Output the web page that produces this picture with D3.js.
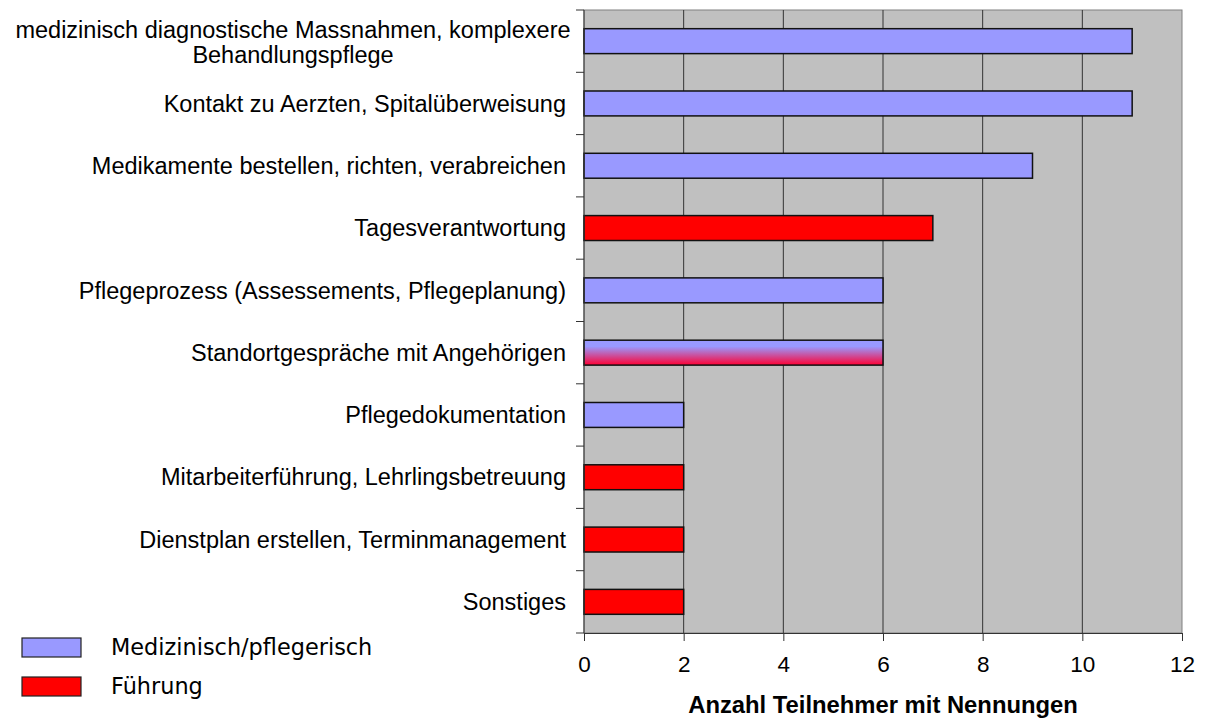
<!DOCTYPE html>
<html>
<head>
<meta charset="utf-8">
<script src="https://cdn.jsdelivr.net/npm/d3@7"></script>
<style>
  body { margin: 0; background: #fff; }
  svg { display: block; }
</style>
</head>
<body>
<div id="chart"></div>
<script>
const categories = [
  ["medizinisch diagnostische Massnahmen, komplexere", "Behandlungspflege"],
  ["Kontakt zu Aerzten, Spitalüberweisung"],
  ["Medikamente bestellen, richten, verabreichen"],
  ["Tagesverantwortung"],
  ["Pflegeprozess (Assessements, Pflegeplanung)"],
  ["Standortgespräche mit Angehörigen"],
  ["Pflegedokumentation"],
  ["Mitarbeiterführung, Lehrlingsbetreuung"],
  ["Dienstplan erstellen, Terminmanagement"],
  ["Sonstiges"]
];
const values = [11, 11, 9, 7, 6, 6, 2, 2, 2, 2];
// "med" = Medizinisch/pflegerisch, "fue" = Führung, "both" = beides
const groups = ["med", "med", "med", "fue", "med", "both", "med", "fue", "fue", "fue"];
const xTicks = [0, 2, 4, 6, 8, 10, 12];
const legendLabels = ["Medizinisch/pflegerisch", "Führung"];
const xTitle = "Anzahl Teilnehmer mit Nennungen";

const width = 1206, height = 719;
const plot = { left: 584, right: 1182, top: 10, bottom: 633 };

const svg = d3.select("#chart").append("svg")
  .attr("width", width)
  .attr("height", height);

const defs = svg.append("defs");
const grad = defs.append("linearGradient")
  .attr("id", "mix")
  .attr("x1", 0).attr("y1", 0).attr("x2", 0).attr("y2", 1);
grad.append("stop").attr("offset", "0%").attr("stop-color", "#9999ff");
grad.append("stop").attr("offset", "25%").attr("stop-color", "#9999ff");
grad.append("stop").attr("offset", "100%").attr("stop-color", "#ff0033");

const fill = { med: "#9999ff", fue: "#ff0000", both: "url(#mix)" };

const x = d3.scaleLinear().domain([0, 12]).range([plot.left, plot.right]);
const y = d3.scaleBand()
  .domain(d3.range(categories.length))
  .range([plot.top, plot.bottom])
  .paddingInner(0.6)
  .paddingOuter(0.3);

// plot background
svg.append("rect")
  .attr("x", plot.left).attr("y", plot.top)
  .attr("width", plot.right - plot.left)
  .attr("height", plot.bottom - plot.top)
  .attr("fill", "#c0c0c0")
  .attr("stroke", "#808080")
  .attr("stroke-width", 1);

// gridlines
svg.selectAll(".grid")
  .data(xTicks.filter(t => t > 0 && t < 12))
  .enter().append("line")
  .attr("x1", d => x(d)).attr("x2", d => x(d))
  .attr("y1", plot.top).attr("y2", plot.bottom)
  .attr("stroke", "#333")
  .attr("stroke-width", 1);

// bars
svg.selectAll(".bar")
  .data(values)
  .enter().append("rect")
  .attr("x", x(0))
  .attr("y", (d, i) => y(i))
  .attr("width", d => x(d) - x(0))
  .attr("height", y.bandwidth())
  .attr("fill", (d, i) => fill[groups[i]])
  .attr("stroke", "#111")
  .attr("stroke-width", 1.5);

// y axis line and ticks at category borders
const step = (plot.bottom - plot.top) / categories.length;
svg.append("line")
  .attr("x1", plot.left).attr("x2", plot.left)
  .attr("y1", plot.top).attr("y2", plot.bottom)
  .attr("stroke", "#333");
svg.selectAll(".ytick")
  .data(d3.range(categories.length + 1))
  .enter().append("line")
  .attr("x1", plot.left - 8).attr("x2", plot.left)
  .attr("y1", d => plot.top + d * step).attr("y2", d => plot.top + d * step)
  .attr("stroke", "#333");

// x axis
const xAxis = svg.append("g")
  .attr("transform", `translate(0,${plot.bottom})`)
  .call(d3.axisBottom(x).tickValues(xTicks).tickSize(8).tickPadding(15));
xAxis.select(".domain").attr("stroke", "#333");
xAxis.selectAll(".tick line").attr("stroke", "#333");
xAxis.selectAll("text")
  .style("font-family", "Liberation Sans, Arial, sans-serif")
  .style("font-size", "22.5px")
  .attr("fill", "#000");

svg.append("text")
  .attr("x", (plot.left + plot.right) / 2)
  .attr("y", 713)
  .attr("text-anchor", "middle")
  .style("font-family", "Liberation Sans, Arial, sans-serif")
  .style("font-size", "23.8px")
  .style("font-weight", "bold")
  .text(xTitle);

// category labels
const labels = svg.selectAll(".cat")
  .data(categories)
  .enter().append("text")
  .style("font-family", "Liberation Sans, Arial, sans-serif")
  .style("font-size", "23.5px")
  .attr("fill", "#000")
  .attr("text-anchor", d => d.length > 1 ? "middle" : "end")
  .attr("x", d => d.length > 1 ? 293 : 566)
  .attr("y", (d, i) => y(i) + y.bandwidth() / 2 - (d.length - 1) * 11);
labels.selectAll("tspan")
  .data(d => d)
  .enter().append("tspan")
  .attr("x", function() { return this.parentNode.getAttribute("x"); })
  .attr("dy", (d, i) => i === 0 ? "0.35em" : 25)
  .text(d => d);

// legend
const legend = svg.append("g");
legend.selectAll("rect")
  .data(legendLabels)
  .enter().append("rect")
  .attr("x", 22)
  .attr("y", (d, i) => 638 + i * 39)
  .attr("width", 59)
  .attr("height", 19)
  .attr("fill", (d, i) => i === 0 ? fill.med : fill.fue)
  .attr("stroke", "#222")
  .attr("stroke-width", 1.2);
legend.selectAll("text")
  .data(legendLabels)
  .enter().append("text")
  .attr("x", 111)
  .attr("y", (d, i) => 647 + i * 39)
  .attr("dy", "0.35em")
  .style("font-family", "DejaVu Sans, Verdana, sans-serif")
  .style("font-size", "22.4px")
  .text(d => d);
</script>
</body>
</html>
